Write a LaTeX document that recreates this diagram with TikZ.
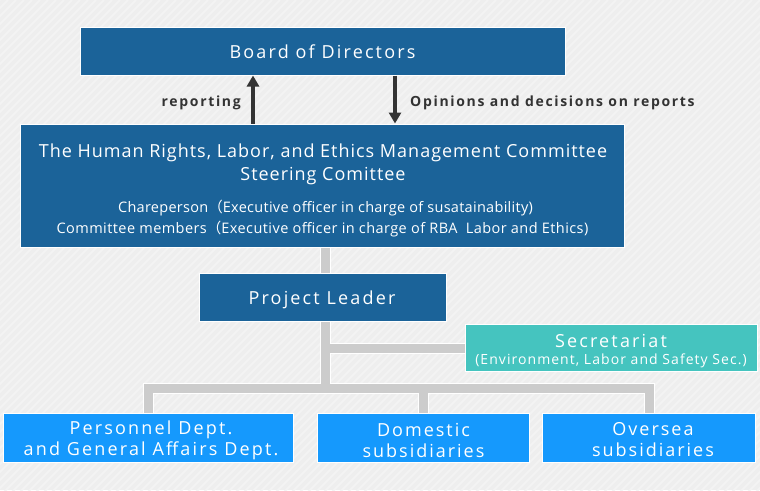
\documentclass[tikz,border=0pt]{standalone}
\usepackage{fontspec}
\setmainfont{Open Sans}
\newfontfamily\cjk{Noto Sans CJK JP}
\usetikzlibrary{arrows.meta}
\pgfdeclarelayer{bg}
\pgfdeclarelayer{lines}
\pgfsetlayers{bg,lines,main}
\definecolor{bgc}{HTML}{EEEEEE}
\definecolor{stripec}{HTML}{F3F3F3}
\definecolor{darkblue}{HTML}{1B6399}
\definecolor{tealc}{HTML}{45C4BF}
\definecolor{brightblue}{HTML}{1599FD}
\definecolor{linec}{HTML}{CCCCCC}
\definecolor{txt}{HTML}{333333}
\newcommand\fwp{{\cjk （}}
\newcommand\ls[1]{\addfontfeature{LetterSpace=#1}}
\tikzset{
  box/.style={draw=white, line width=1pt, inner sep=0pt, text=white, align=center},
  darkbox/.style={box, fill=darkblue},
  tealbox/.style={box, fill=tealc},
  brightbox/.style={box, fill=brightblue},
  lbl/.style={inner sep=0pt, text=txt, font=\bfseries\fontsize{14}{16}\selectfont\ls{12}},
  wtext/.style={inner sep=0pt, text=white, align=center},
  tubeout/.style={draw=white, line width=11pt, line join=miter},
  tubein/.style={draw=linec, line width=9pt, line join=miter},
  bigarrow/.style={draw=txt, line width=4pt, -{Triangle[width=12pt,length=11pt]}},
}
\begin{document}
\begin{tikzpicture}[x=1pt,y=-1pt]
\useasboundingbox (0,0) rectangle (760,490);
\begin{pgfonlayer}{bg}
\fill[bgc] (0,0) rectangle (760,490);
\begin{scope}
\clip (0,0) rectangle (760,490);
\foreach \i in {0,8,...,1260} \draw[stripec, line width=2pt] (\i,0) -- ++(-500,500);
\end{scope}
\end{pgfonlayer}

% coordinates
\coordinate (tx) at (325,0);
\coordinate (busy) at (0,388);
\coordinate (secy) at (0,348);
\coordinate (upx) at (253,0);
\coordinate (dnx) at (395,0);

% boxes
\node[darkbox, minimum width=485pt, minimum height=48pt] (board) at (322.5,51) {};
\node[darkbox, minimum width=604pt, minimum height=123pt] (comm) at (322,185.5) {};
\node[darkbox, minimum width=247pt, minimum height=48pt] (pl) at (322.5,297) {};
\node[tealbox, minimum width=292pt, minimum height=47pt] (sec) at (611,347.5) {};
\node[brightbox, minimum width=290pt, minimum height=49pt] (pers) at (148.5,437.5) {};
\node[brightbox, minimum width=212pt, minimum height=49pt] (dom) at (423.5,437.5) {};
\node[brightbox, minimum width=213pt, minimum height=49pt] (ovs) at (649,437.5) {};

% connectors
\begin{pgfonlayer}{lines}
\foreach \s in {tubeout,tubein}{
  \draw[\s] (comm.south -| tx) -- (tx |- busy);
  \draw[\s] (tx |- secy) -- (sec.west |- secy);
  \draw[\s] (pers.north) -- (pers.north |- busy) -- (ovs.north |- busy) -- (ovs.north);
  \draw[\s] (dom.north) -- (dom.north |- busy);
}
\end{pgfonlayer}

% arrows
\draw[bigarrow] (comm.north -| upx) -- (board.south -| upx);
\draw[bigarrow] (board.south -| dnx) -- (comm.north -| dnx);
\node[lbl, anchor=east] (rep) at (241,102.5) {reporting};
\node[lbl, anchor=west] (opi) at (410,102.5) {Opinions and decisions on reports};

% texts
\node[wtext, font=\fontsize{18}{20}\selectfont\ls{12}] (tboard) at (322.5,52) {Board of Directors};
\node[wtext, font=\fontsize{18}{20}\selectfont\ls{5.5}] (tc1) at (323,152.5) {The Human Rights, Labor, and Ethics Management Committee};
\node[wtext, font=\fontsize{18}{20}\selectfont\ls{5.5}] (tc2) at (323,176.5) {Steering Comittee};
\node[wtext, font=\fontsize{14.5}{16}\selectfont\ls{2}] (tc3) at (325.5,208) {Chareperson\fwp Executive officer in charge of susatainability)};
\node[wtext, font=\fontsize{14.5}{16}\selectfont\ls{3}] (tc4) at (322.5,229) {Committee members\fwp Executive officer in charge of RBA\ \ Labor and Ethics)};
\node[wtext, font=\fontsize{18}{20}\selectfont\ls{12}] (tpl) at (322,300) {Project Leader};
\node[wtext, font=\fontsize{18}{20}\selectfont\ls{12}] (ts1) at (611,340.5) {Secretariat};
\node[wtext, font=\fontsize{14}{16}\selectfont\ls{7.5}] (ts2) at (611,361) {(Environment, Labor and Safety Sec.)};
\node[wtext, font=\fontsize{18}{21}\selectfont\ls{12}] (tp) at (151,440) {Personnel Dept.\\and General Affairs Dept.};
\node[wtext, font=\fontsize{18}{21}\selectfont\ls{11}] (td) at (423.5,440) {Domestic\\subsidiaries};
\node[wtext, font=\fontsize{18}{21}\selectfont\ls{11}] (to) at (653,440) {Oversea\\subsidiaries};
\end{tikzpicture}
\end{document}
